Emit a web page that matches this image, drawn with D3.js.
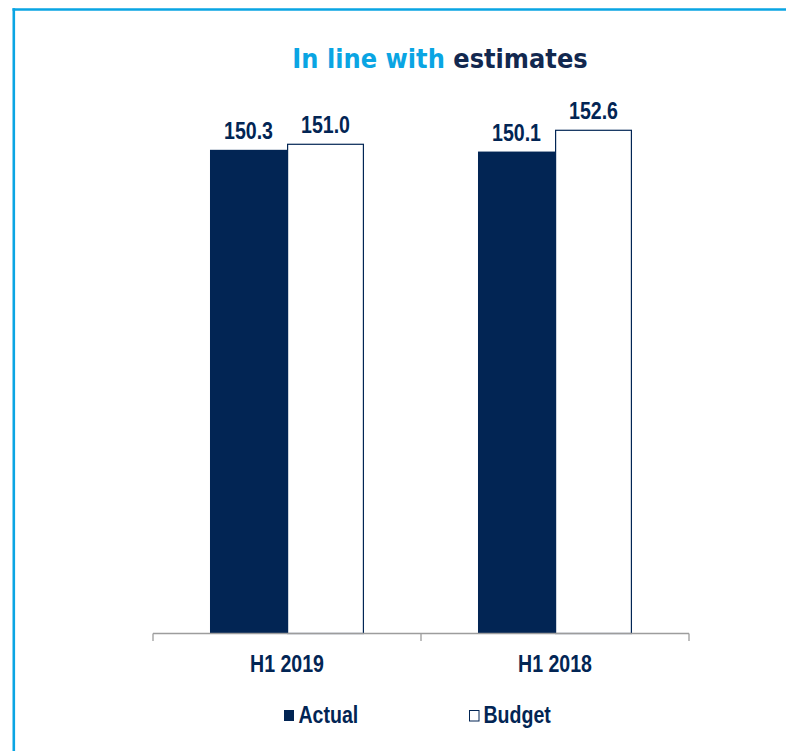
<!DOCTYPE html>
<html>
<head>
<meta charset="utf-8">
<script src="https://cdn.jsdelivr.net/npm/d3@7"></script>
<style>
  html, body { margin: 0; padding: 0; background: #ffffff; }
  svg { display: block; }
</style>
</head>
<body>
<div id="chart"></div>
<script>
// Half-year results: actual vs budget
const periods = ["H1 2019", "H1 2018"];
const seriesNames = ["Actual", "Budget"];
const actualValues = [150.3, 150.1];
const budgetValues = [151.0, 152.6];
const valueDomain = [95, 155];

const W = 786, H = 751;
const navy = "#022554";
const sky = "#0aa5e3";
const fontStack = "'Liberation Sans', Arial, sans-serif";
const squeeze = 0.85; // narrow bold labels

const svg = d3.select("#chart").append("svg")
  .attr("width", W).attr("height", H);

// frame: top and left rules
svg.append("line").attr("x1", 12.5).attr("x2", W).attr("y1", 9.5).attr("y2", 9.5)
  .attr("stroke", sky).attr("stroke-width", 2.6);
svg.append("line").attr("x1", 13.8).attr("x2", 13.8).attr("y1", 8.2).attr("y2", H)
  .attr("stroke", sky).attr("stroke-width", 2.6);

// title
const title = svg.append("text")
  .attr("text-anchor", "middle")
  .attr("transform", "translate(440,68) scale(0.93,1)")
  .style("font-family", "'DejaVu Sans', Verdana, sans-serif")
  .style("font-weight", "bold")
  .style("font-size", "26px");
title.append("tspan").attr("fill", sky).text("In line with ");
title.append("tspan").attr("fill", "#12284f").text("estimates");

// scales
const x0 = d3.scaleBand().domain(periods).range([153, 689]).padding(0);
const x1 = d3.scaleBand().domain(seriesNames).range([0, x0.bandwidth()])
  .paddingInner(0).paddingOuter(0.74);
const y = d3.scaleLinear().domain(valueDomain).range([633.5, 108.7]);

const rows = periods.map((p, i) => ({
  period: p,
  values: [
    { series: "Actual", value: actualValues[i] },
    { series: "Budget", value: budgetValues[i] }
  ]
}));

function boldLabel(sel) {
  return sel.attr("fill", navy)
    .style("font-family", fontStack)
    .style("font-weight", "bold")
    .style("font-size", "23px");
}

const groups = svg.append("g").selectAll("g").data(rows).join("g")
  .attr("transform", d => `translate(${x0(d.period)},0)`);

groups.selectAll("rect").data(d => d.values).join("rect")
  .attr("x", d => x1(d.series) + (d.series === "Budget" ? 0.6 : 0))
  .attr("width", d => x1.bandwidth() - (d.series === "Budget" ? 1.2 : 0))
  .attr("y", d => y(d.value) + (d.series === "Budget" ? 0.6 : 0))
  .attr("height", d => y(valueDomain[0]) - y(d.value) - (d.series === "Budget" ? 0.6 : 0))
  .attr("fill", d => d.series === "Actual" ? navy : "#ffffff")
  .attr("stroke", d => d.series === "Actual" ? "none" : navy)
  .attr("stroke-width", 1.2);

groups.selectAll("text").data(d => d.values).join("text")
  .attr("transform", d => `translate(${x1(d.series) + x1.bandwidth() / 2},${y(d.value) - 11}) scale(${squeeze},1)`)
  .attr("text-anchor", "middle")
  .call(boldLabel)
  .text(d => d.value.toFixed(1));

// category axis
const axis = svg.append("g").attr("transform", `translate(0,${y(valueDomain[0])})`);
axis.append("line").attr("x1", x0.range()[0]).attr("x2", x0.range()[1]).attr("y1", 0).attr("y2", 0)
  .attr("stroke", "#9d9d9d").attr("stroke-width", 1.3);
const boundaries = [x0.range()[0], ...periods.map(p => x0(p) + x0.bandwidth())];
axis.selectAll(".sep").data(boundaries).join("line").attr("class", "sep")
  .attr("x1", d => d).attr("x2", d => d).attr("y1", 0).attr("y2", 7.5)
  .attr("stroke", "#9d9d9d").attr("stroke-width", 1.3);

svg.append("g").selectAll("text").data(periods).join("text")
  .attr("transform", d => `translate(${x0(d) + x0.bandwidth() / 2},672) scale(${squeeze},1)`)
  .attr("text-anchor", "middle")
  .call(boldLabel)
  .text(d => d);

// legend
const legendX = [284, 469];
const legend = svg.append("g").selectAll("g").data(seriesNames).join("g")
  .attr("transform", (d, i) => `translate(${legendX[i]},710)`);
legend.append("rect")
  .attr("x", d => d === "Actual" ? 0 : 0.5).attr("y", d => d === "Actual" ? 0 : 0.5)
  .attr("width", d => d === "Actual" ? 10 : 9.5).attr("height", d => d === "Actual" ? 11 : 10.5)
  .attr("fill", d => d === "Actual" ? navy : "#ffffff")
  .attr("stroke", d => d === "Actual" ? "none" : navy)
  .attr("stroke-width", 1);
legend.append("text")
  .attr("transform", d => `translate(${d === "Actual" ? 14.5 : 14.5},12.7) scale(${squeeze},1)`)
  .call(boldLabel)
  .text(d => d);
</script>
</body>
</html>
